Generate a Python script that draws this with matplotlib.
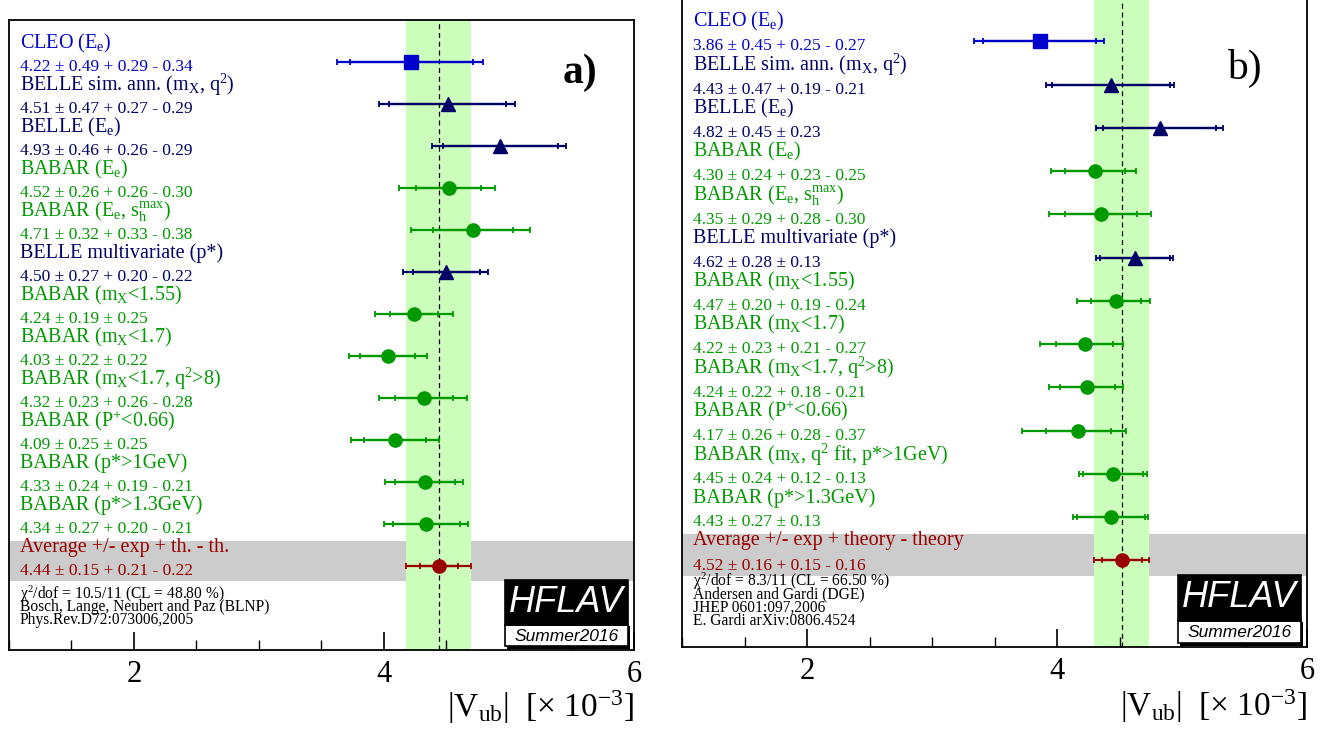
import numpy as np
import matplotlib
matplotlib.use("Agg")
import matplotlib.pyplot as plt
from matplotlib.patches import Rectangle
from matplotlib.ticker import MultipleLocator

plt.rcParams['font.family'] = ['Liberation Serif', 'DejaVu Serif']
plt.rcParams['mathtext.fontset'] = 'custom'
plt.rcParams['mathtext.rm'] = 'Liberation Serif'
plt.rcParams['mathtext.it'] = 'Liberation Serif:italic'
plt.rcParams['mathtext.default'] = 'regular'

CLEO_C = '#0000cc'
BELLE_C = '#000066'
BABAR_C = '#009900'
AVG_C = '#990000'
BAND_C = '#ccffbb'
GRAY_C = '#cccccc'

# ---- panel a) BLNP ----
labels_a = [r'CLEO (E$_{e}$)', r'BELLE sim. ann. (m$_{X}$, q$^{2}$)', r'BELLE (E$_{e}$)',
            r'BABAR (E$_{e}$)', r'BABAR (E$_{e}$, s$_{h}^{max}$)', 'BELLE multivariate (p*)',
            r'BABAR (m$_{X}$<1.55)', r'BABAR (m$_{X}$<1.7)', r'BABAR (m$_{X}$<1.7, q$^{2}$>8)',
            r'BABAR (P$^{+}$<0.66)', 'BABAR (p*>1GeV)', 'BABAR (p*>1.3GeV)']
exps_a = ['CLEO', 'BELLE', 'BELLE', 'BABAR', 'BABAR', 'BELLE',
          'BABAR', 'BABAR', 'BABAR', 'BABAR', 'BABAR', 'BABAR']
vub_a = [4.22, 4.51, 4.93, 4.52, 4.71, 4.50, 4.24, 4.03, 4.32, 4.09, 4.33, 4.34]
stat_a = [0.49, 0.47, 0.46, 0.26, 0.32, 0.27, 0.19, 0.22, 0.23, 0.25, 0.24, 0.27]
thp_a = [0.29, 0.27, 0.26, 0.26, 0.33, 0.20, 0.25, 0.22, 0.26, 0.25, 0.19, 0.20]
thm_a = [0.34, 0.29, 0.29, 0.30, 0.38, 0.22, 0.25, 0.22, 0.28, 0.25, 0.21, 0.21]
avg_a = [4.44, 0.15, 0.21, 0.22]
notes_a = [r'$\chi^{2}$/dof = 10.5/11 (CL = 48.80 %)',
           'Bosch, Lange, Neubert and Paz (BLNP)',
           'Phys.Rev.D72:073006,2005']

# ---- panel b) DGE ----
labels_b = [r'CLEO (E$_{e}$)', r'BELLE sim. ann. (m$_{X}$, q$^{2}$)', r'BELLE (E$_{e}$)',
            r'BABAR (E$_{e}$)', r'BABAR (E$_{e}$, s$_{h}^{max}$)', 'BELLE multivariate (p*)',
            r'BABAR (m$_{X}$<1.55)', r'BABAR (m$_{X}$<1.7)', r'BABAR (m$_{X}$<1.7, q$^{2}$>8)',
            r'BABAR (P$^{+}$<0.66)', r'BABAR (m$_{X}$, q$^{2}$ fit, p*>1GeV)', 'BABAR (p*>1.3GeV)']
exps_b = exps_a
vub_b = [3.86, 4.43, 4.82, 4.30, 4.35, 4.62, 4.47, 4.22, 4.24, 4.17, 4.45, 4.43]
stat_b = [0.45, 0.47, 0.45, 0.24, 0.29, 0.28, 0.20, 0.23, 0.22, 0.26, 0.24, 0.27]
thp_b = [0.25, 0.19, 0.23, 0.23, 0.28, 0.13, 0.19, 0.21, 0.18, 0.28, 0.12, 0.13]
thm_b = [0.27, 0.21, 0.23, 0.25, 0.30, 0.13, 0.24, 0.27, 0.21, 0.37, 0.13, 0.13]
avg_b = [4.52, 0.16, 0.15, 0.16]
notes_b = [r'$\chi^{2}$/dof = 8.3/11 (CL = 66.50 %)',
           'Andersen and Gardi (DGE)',
           'JHEP 0601:097,2006',
           'E. Gardi arXiv:0806.4524']

style = {'CLEO': (CLEO_C, 's', 9.5), 'BELLE': (BELLE_C, '^', 10), 'BABAR': (BABAR_C, 'o', 9.5)}


def value_text(v, s, p, m):
    if p == m:
        return f'{v:.2f} ± {s:.2f} ± {p:.2f}'
    return f'{v:.2f} ± {s:.2f} + {p:.2f} - {m:.2f}'


def draw_point(ax, y, v, s, p, m, color, marker, ms):
    tp = np.hypot(s, p)
    tm = np.hypot(s, m)
    ax.errorbar([v], [y], xerr=[[tm], [tp]], fmt='none', ecolor=color,
                elinewidth=1.6, capsize=2.5, capthick=1.3, zorder=3)
    ax.errorbar([v], [y], xerr=[[s], [s]], fmt='none', ecolor=color,
                elinewidth=1.6, capsize=2.5, capthick=1.3, zorder=3)
    ax.plot([v], [y], marker=marker, color=color, ms=ms, ls='none', zorder=4)


def draw_panel(ax, labels, exps, vals, stat, thp, thm, avg, notes, note_y, tag, tag_pos, tag_w):
    n = len(vals)
    ax.set_xlim(1, 6)
    ax.set_ylim(0, 15)
    v, s, p, m = avg
    ax.axhspan(1.64, 2.6, color=GRAY_C, lw=0, zorder=0.5)
    ax.axvspan(v - np.hypot(s, m), v + np.hypot(s, p), color=BAND_C, lw=0, zorder=1)
    ax.axvline(v, color='black', lw=0.9, ls=(0, (4, 3)), zorder=1.5)

    for i in range(n):
        y = 14 - i
        color, marker, ms = style[exps[i]]
        draw_point(ax, y, vals[i], stat[i], thp[i], thm[i], color, marker, ms)
        ax.text(0.018, (y + 0.45) / 15, labels[i], transform=ax.transAxes,
                color=color, fontsize=14.5, va='center', ha='left', zorder=5)
        ax.text(0.018, (y - 0.12) / 15, value_text(vals[i], stat[i], thp[i], thm[i]),
                transform=ax.transAxes, color=color, fontsize=12.5, va='center', ha='left', zorder=5)

    y = 14 - n
    draw_point(ax, y, v, s, p, m, AVG_C, 'o', 9.5)
    ax.text(0.018, (y + 0.45) / 15, 'Average +/- exp + ' + ('th. - th.' if tag == 'a)' else 'theory - theory'),
            transform=ax.transAxes, color=AVG_C, fontsize=14.5, va='center', ha='left', zorder=5)
    ax.text(0.018, (y - 0.12) / 15, value_text(v, s, p, m), transform=ax.transAxes,
            color=AVG_C, fontsize=12.5, va='center', ha='left', zorder=5)

    for txt, yy in zip(notes, note_y):
        ax.text(0.018, yy, txt, transform=ax.transAxes, fontsize=11.2, va='center', ha='left', zorder=5)

    ax.text(tag_pos[0], tag_pos[1], tag, transform=ax.transAxes, fontsize=30,
            fontweight=tag_w, ha='center', va='center')

    # HFLAV logo
    x0, x1 = 0.793, 0.990
    ax.add_patch(Rectangle((x0 + 0.004, 0.002), x1 - x0, 0.036, transform=ax.transAxes,
                           facecolor='black', edgecolor='none', zorder=2))
    ax.add_patch(Rectangle((x0, 0.006), x1 - x0, 0.034, transform=ax.transAxes,
                           facecolor='white', edgecolor='black', lw=1.2, zorder=2))
    ax.add_patch(Rectangle((x0, 0.040), x1 - x0, 0.071, transform=ax.transAxes,
                           facecolor='black', edgecolor='black', lw=1.2, zorder=2))
    ax.text((x0 + x1) / 2, 0.076, 'HFLAV', transform=ax.transAxes, color='white',
            fontsize=26, style='italic', family='Liberation Sans', ha='center', va='center', zorder=2.6)
    ax.text((x0 + x1) / 2, 0.022, 'Summer2016', transform=ax.transAxes, color='black',
            fontsize=12.5, style='italic', family='Liberation Sans', ha='center', va='center', zorder=2.6)

    ax.xaxis.set_major_locator(MultipleLocator(2))
    ax.xaxis.set_minor_locator(MultipleLocator(0.5))
    ax.tick_params(axis='x', which='major', direction='in', length=13, width=1.2,
                   labelsize=22, pad=7, top=False)
    ax.tick_params(axis='x', which='minor', direction='in', length=7, width=1.0, top=False)
    ax.set_yticks([])
    for sp in ax.spines.values():
        sp.set_linewidth(1.3)
    ax.text(1.0, -0.106, r'|V$_{ub}$|  [$\times$ 10$^{-3}$]', transform=ax.transAxes,
            fontsize=24, ha='right', va='baseline')


fig = plt.figure(figsize=(13.28, 7.41), dpi=100)
ax_a = fig.add_axes([0.00655, 0.1228, 0.4709, 0.8502])
ax_b = fig.add_axes([0.5136, 0.1269, 0.4706, 0.8758])

draw_panel(ax_a, labels_a, exps_a, vub_a, stat_a, thp_a, thm_a, avg_a, notes_a,
           [0.0890, 0.0685, 0.0480], 'a)', (0.914, 0.917), 'bold')
draw_panel(ax_b, labels_b, exps_b, vub_b, stat_b, thp_b, thm_b, avg_b, notes_b,
           [0.1010, 0.0805, 0.0600, 0.0395], 'b)', (0.90, 0.892), 'normal')

fig.savefig('out.png', dpi=100)
